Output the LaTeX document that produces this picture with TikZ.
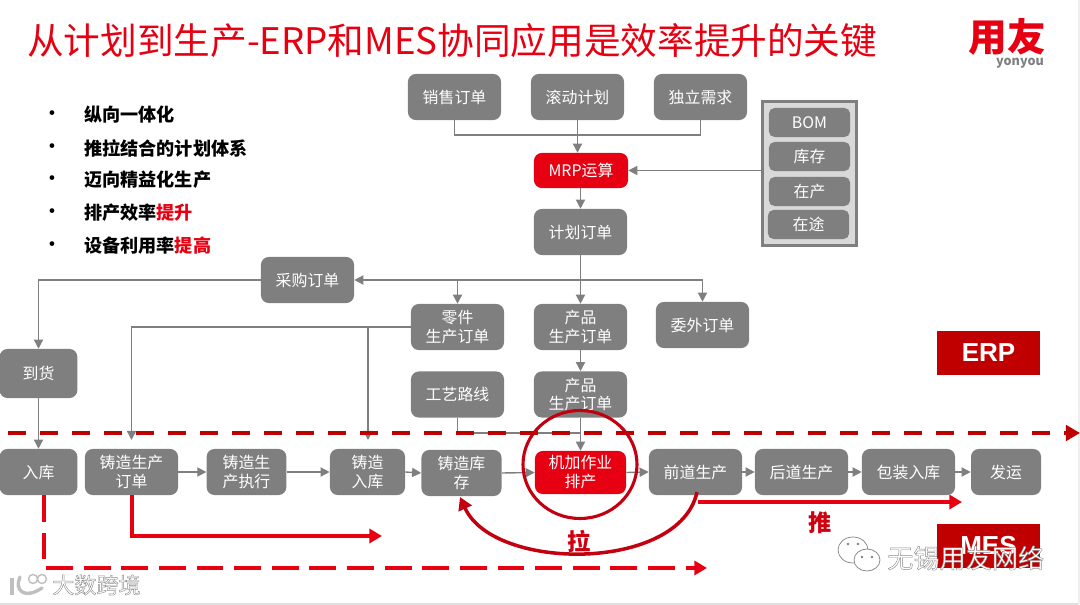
\documentclass[tikz,border=0pt]{standalone}
\usepackage{fontspec}
\usepackage{xcolor}
\setmainfont{Noto Sans CJK SC}
\newfontfamily\latinfont{Liberation Sans}
\usetikzlibrary{arrows.meta, shapes.geometric}
\definecolor{yonyoured}{RGB}{230,0,18}
\definecolor{yonyoudark}{RGB}{192,0,0}
\definecolor{yonyougray}{RGB}{127,127,127}
\definecolor{panelgray}{RGB}{217,217,217}
\newcommand{\outlinetext}[1]{\special{pdf:code q 2 Tr 0.3 w 0.55 G 1 g}#1\special{pdf:code Q}}

\begin{document}
\begin{tikzpicture}[x=0.025cm, y=-0.025cm,
 box/.style={rounded corners=5.5pt, fill=yonyougray, text=white, inner sep=0pt, align=center, font=\fontsize{11.3}{13.5}\selectfont},
 boxwide/.style={box, minimum width=2.325cm, minimum height=1.15cm},
 redbox/.style={box, fill=yonyoured},
 stockitem/.style={box, rounded corners=4pt, minimum width=2.03cm, minimum height=0.725cm},
 tagbox/.style={fill=yonyoudark, text=white, minimum width=2.575cm, minimum height=1.1cm, inner sep=0pt, font=\latinfont\fontsize{18.5}{20}\selectfont\bfseries},
 bullet/.style={anchor=center, font=\fontsize{12}{14}\selectfont\bfseries},
 point/.style={anchor=west, inner sep=0pt, font=\fontsize{12.9}{15}\selectfont\bfseries},
 line/.style={draw=yonyougray, line width=1pt},
 flow/.style={line, -{Triangle[length=6.5pt, width=6.5pt]}},
 redflow/.style={draw=yonyoured, line width=2.5pt, -{Triangle[length=9pt, width=10pt]}}]
 \useasboundingbox (0,0) rectangle (1080,605);
 \fill[gray!25] (0,603) rectangle (1080,605);
 \fill[gray!12] (1078,0) rectangle (1080,605);

 % title and logo
 \node[anchor=west, inner sep=0pt, text=yonyoured, font=\fontsize{26.05}{30}\selectfont] (title) at (27,41){从计划到生产-ERP和MES协同应用是效率提升的关键};
 \node[inner sep=0pt, text=yonyoured, font=\fontsize{27.5}{30}\selectfont\bfseries] (logo) at (1007,37){用友};
 \node[inner sep=0pt, text=yonyougray, font=\fontsize{9}{10}\selectfont\bfseries] (logotext) at (1020,63){yonyou};

 % points on the left
 \node[bullet] (dota) at (52,115){•};
 \node[bullet] (dotb) at (52,148){•};
 \node[bullet] (dotc) at (52,180){•};
 \node[bullet] (dotd) at (52,213){•};
 \node[bullet] (dote) at (52,246){•};
 \node[point] (pointa) at (84,115){纵向一体化};
 \node[point] (pointb) at (84,148){推拉结合的计划体系};
 \node[point] (pointc) at (84,180){迈向精益化生产};
 \node[point] (pointd) at (84,213){排产效率\textcolor{yonyoured}{提升}};
 \node[point] (pointe) at (84,246){设备利用率\textcolor{yonyoured}{提高}};

 % ERP side
 \node[boxwide] (salesorder) at (454.5,97){销售订单};
 \node[boxwide] (rollplan) at (577.5,97){滚动计划};
 \node[boxwide] (indepdemand) at (700.5,97){独立需求};
 \node[redbox, minimum width=2.35cm, minimum height=0.875cm] (mrp) at (581,170.5){MRP运算};
 \node[boxwide] (planorder) at (580.5,232){计划订单};
 \node[draw=yonyougray, line width=2.2pt, fill=panelgray, minimum width=2.35cm, minimum height=3.58cm, inner sep=0pt] (stockpanel) at (809.5,173.5){};
 \node[stockitem] (bomitem) at (809.5,122.5){BOM};
 \node[stockitem] (storeitem) at (809.5,156.5){库存};
 \node[stockitem] (wipitem) at (809.5,191.5){在产};
 \node[stockitem] (transititem) at (808.5,224.5){在途};
 \node[boxwide] (purchase) at (307.5,280){采购订单};
 \node[boxwide] (partorder) at (457.5,327){零件\\生产订单};
 \node[boxwide] (productorder) at (580.5,327){产品\\生产订单};
 \node[boxwide] (outsource) at (702.5,325){委外订单};
 \node[box, minimum width=1.94cm, minimum height=1.225cm] (arrival) at (38.5,373.5){到货};
 \node[boxwide] (routing) at (457.5,394.5){工艺路线};
 \node[boxwide] (productorderb) at (580.5,394.5){产品\\生产订单};

 % MES row
 \node[box, minimum width=1.94cm, minimum height=1.15cm] (storein) at (38.5,472){入库};
 \node[boxwide] (castorder) at (131.5,472){铸造生产\\订单};
 \node[box, minimum width=1.99cm, minimum height=1.15cm] (castexec) at (246.5,472){铸造生\\产执行};
 \node[box, minimum width=1.875cm, minimum height=1.15cm] (castin) at (367.5,472){铸造\\入库};
 \node[box, minimum width=2cm, minimum height=1.15cm] (caststock) at (461.5,473){铸造库\\存};
 \node[redbox, minimum width=2.275cm, minimum height=1.075cm] (machine) at (580.5,472.5){机加作业\\排产};
 \node[boxwide] (frontprod) at (695.5,472){前道生产};
 \node[boxwide] (backprod) at (801.5,472){后道生产};
 \node[boxwide] (packin) at (908.5,472){包装入库};
 \node[box, minimum width=1.75cm, minimum height=1.15cm] (shipout) at (1006,472){发运};
 \node[tagbox] (erpbox) at (988.5,353){ERP};
 \node[tagbox] (mesbox) at (988.5,546){MES};

 % free ends
 \coordinate (demandbus) at (577.5,135);
 \coordinate (planbus) at (580.5,280);
 \coordinate (routebus) at (580.5,433);
 \coordinate (casttip) at (131.5,440);
 \coordinate (castintip) at (368,440);
 \coordinate (dashstart) at (8,433);
 \coordinate (dashend) at (1080,433);
 \coordinate (redcorner) at (132,536);
 \coordinate (redend) at (382,536);
 \coordinate (lowstart) at (44,495);
 \coordinate (lowcorner) at (44,568);
 \coordinate (lowend) at (707,568);
 \coordinate (pullstart) at (697,492);
 \coordinate (pullend) at (460,497);
 \coordinate (pushstart) at (698,502);
 \coordinate (pushend) at (962,502);

 % connectors
 \draw[line] (salesorder.south) |- (demandbus) -| (indepdemand.south);
 \draw[flow] (rollplan.south) -- (rollplan.south |- mrp.north);
 \draw[flow] (mrp.south -| planorder.north) -- (planorder.north);
 \draw[flow] (mrp.east -| stockpanel.west) -- (mrp.east);
 \draw[flow] (planorder.south) -- (productorder.north);
 \draw[flow] (planbus) -- (purchase.east);
 \draw[flow] (planbus) -| (partorder.north);
 \draw[flow] (planbus) -| (outsource.north);
 \draw[flow] (purchase.west) -| (arrival.north);
 \draw[flow] (arrival.south) -- (storein.north);
 \draw[flow] (partorder.west) -| (casttip);
 \draw[flow] (partorder.west -| castintip) -- (castintip);
 \draw[flow] (productorder.south) -- (productorderb.north);
 \draw[flow] (productorderb.south) -- (machine.north);
 \draw[line] (routing.south) |- (routebus);
 \draw[flow] (castorder.east) -- (castexec.west);
 \draw[flow] (castexec.east) -- (castin.west);
 \draw[flow] (castin.east) -- (caststock.west);
 \draw[flow] (caststock.east) -- (machine.west);
 \draw[flow] (machine.east) -- (frontprod.west);
 \draw[flow] (frontprod.east) -- (backprod.west);
 \draw[flow] (backprod.east) -- (packin.west);
 \draw[flow] (packin.east) -- (shipout.west);

 % red marks
 \draw[draw=yonyoudark, line width=2.8pt, dash pattern=on 0.45cm off 0.35cm, -{Triangle[length=10pt, width=11pt]}] (dashstart) -- (dashend);
 \draw[draw=yonyoured!85!black, line width=2.2pt] (580,464.5) ellipse (57 and 54);
 \draw[redflow] (castorder.south -| redcorner) -- (redcorner) -- (redend);
 \draw[redflow, dash pattern=on 0.67cm off 0.27cm] (lowstart) -- (lowcorner) -- (lowend);
 \draw[draw=yonyoured!85!black, line width=2.5pt, -{Triangle[length=9pt, width=10pt]}] (pullstart) .. controls (680,572) and (494,572) .. (pullend);
 \draw[redflow] (pushstart) -- (pushend);
 \node[text=yonyoured!90!black, inner sep=0pt, font=\fontsize{16.5}{18}\selectfont\bfseries] (pushlabel) at (820.5,523){推};
 \node[text=yonyoured!90!black, inner sep=0pt, font=\fontsize{16.5}{18}\selectfont\bfseries] (pulllabel) at (579,541){拉};

 % watermarks
 \draw[gray, fill=white, line width=0.5pt] (853,550) ellipse (15 and 13);
 \draw[gray, fill=white, line width=0.5pt] (867,560) ellipse (13 and 11);
 \fill[gray] (848,544) circle (1.3) (858,544) circle (1.3) (862,557) circle (1.3) (872,557) circle (1.3);
 \node[anchor=west, inner sep=0pt, font=\fontsize{18.6}{20}\selectfont] (markwuxi) at (887,558){\outlinetext{无锡用友网络}};
 \draw[gray!50, line width=2.4pt, line cap=round] (20,577) .. controls (14,590) and (24,600) .. (42,588);
 \draw[gray!50, line width=2.2pt] (12,578) -- (12,595);
 \draw[gray!50, line width=1pt] (33,579) circle (4.5) (42,579) circle (4.5);
 \node[anchor=west, inner sep=0pt, font=\fontsize{15.7}{17}\selectfont] (markdata) at (52,585){\outlinetext{大数跨境}};
\end{tikzpicture}
\end{document}
